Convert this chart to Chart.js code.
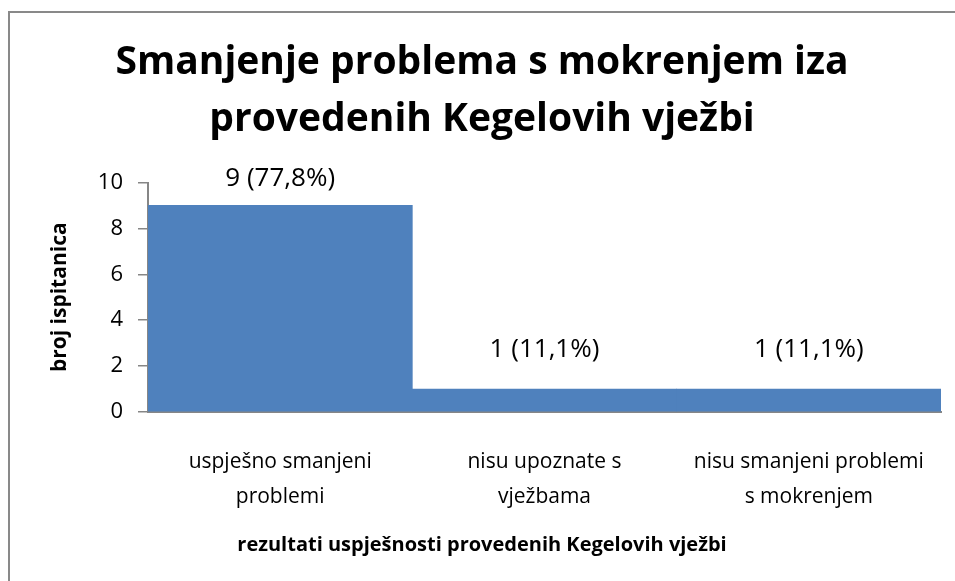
<!DOCTYPE html>
<html lang="hr">
<head>
<meta charset="utf-8">
<title>Smanjenje problema s mokrenjem</title>
<script src="https://cdn.jsdelivr.net/npm/chart.js@4.4.1/dist/chart.umd.min.js"></script>
<style>
  html, body {
    margin: 0;
    padding: 0;
    background: #fff;
    overflow: hidden;
  }
  .chart-frame {
    position: absolute;
    left: 8px;
    top: 11px;
    width: 960px;
    height: 600px;
    border-left: 2px solid #898989;
    border-top: 2px solid #898989;
  }
  #chart {
    display: block;
  }
</style>
</head>
<body>
<div class="chart-frame">
  <canvas id="chart" width="944" height="568"></canvas>
</div>
<script>
// Podaci s grafikona
const categories = [
  ['uspješno smanjeni', 'problemi'],
  ['nisu upoznate s', 'vježbama'],
  ['nisu smanjeni problemi', 's mokrenjem']
];
const counts = [9, 1, 1];
const percents = [77.8, 11.1, 11.1];
const yTicks = [0, 2, 4, 6, 8, 10];

const titleLines = ['Smanjenje problema s mokrenjem iza', 'provedenih Kegelovih vježbi'];
const xTitle = 'rezultati uspješnosti provedenih Kegelovih vježbi';
const yTitle = 'broj ispitanica';

const FONT = "'Open Sans', 'DejaVu Sans', sans-serif";
const AXIS_GRAY = '#868686';
const BAR_BLUE = '#4F81BD';

// koliko je oznaka iznad vrha stupca (px)
const labelLift = [27, 39, 39];

// Oznake vrijednosti iznad stupaca
const valueLabels = {
  id: 'valueLabels',
  afterDatasetsDraw(chart) {
    const ctx = chart.ctx;
    const meta = chart.getDatasetMeta(0);
    ctx.save();
    ctx.font = `26px ${FONT}`;
    ctx.fillStyle = '#000';
    ctx.textAlign = 'center';
    ctx.textBaseline = 'middle';
    meta.data.forEach((bar, i) => {
      const pct = percents[i].toFixed(1).replace('.', ',');
      ctx.fillText(`${counts[i]} (${pct}%)`, bar.x, bar.y - labelLift[i]);
    });
    ctx.restore();
  }
};

const ctx = document.getElementById('chart').getContext('2d');

new Chart(ctx, {
  type: 'bar',
  data: {
    labels: categories,
    datasets: [{
      data: counts,
      backgroundColor: BAR_BLUE,
      borderWidth: 0,
      barPercentage: 1,
      categoryPercentage: 1
    }]
  },
  options: {
    responsive: false,
    animation: false,
    layout: {
      padding: { left: 13, right: 13, top: 0, bottom: 0 }
    },
    plugins: {
      legend: { display: false },
      tooltip: { enabled: false },
      title: {
        display: true,
        text: titleLines,
        color: '#000',
        font: { family: FONT, size: 39, weight: 'bold', lineHeight: 57.5 / 39 },
        padding: { top: 21, bottom: 33.5 }
      },
      subtitle: {
        display: true,
        position: 'bottom',
        text: xTitle,
        color: '#000',
        font: { family: FONT, size: 20, weight: 'bold', lineHeight: 1.2 },
        padding: { top: 0, bottom: 24 }
      }
    },
    scales: {
      x: {
        grid: { display: false },
        border: { display: true, color: AXIS_GRAY, width: 2 },
        ticks: {
          color: '#000',
          padding: 25,
          maxRotation: 0,
          autoSkip: false,
          font: { family: FONT, size: 21, lineHeight: 35 / 21 }
        },
        afterFit(scale) {
          scale.height = 121;
        }
      },
      y: {
        min: 0,
        max: 10,
        afterBuildTicks(scale) {
          scale.ticks = yTicks.map(v => ({ value: v }));
        },
        grid: {
          drawOnChartArea: false,
          drawTicks: true,
          tickLength: 10,
          color: AXIS_GRAY,
          lineWidth: 1.5
        },
        border: { display: true, color: AXIS_GRAY, width: 2 },
        ticks: {
          color: '#000',
          padding: 15,
          font: { family: FONT, size: 22 }
        },
        title: {
          display: true,
          text: yTitle,
          color: '#000',
          font: { family: FONT, size: 21, weight: 'bold', lineHeight: 1.2 },
          padding: { top: 24, bottom: 0 }
        },
        afterFit(scale) {
          scale.width = 125;
        }
      }
    }
  },
  plugins: [valueLabels]
});
</script>
</body>
</html>
